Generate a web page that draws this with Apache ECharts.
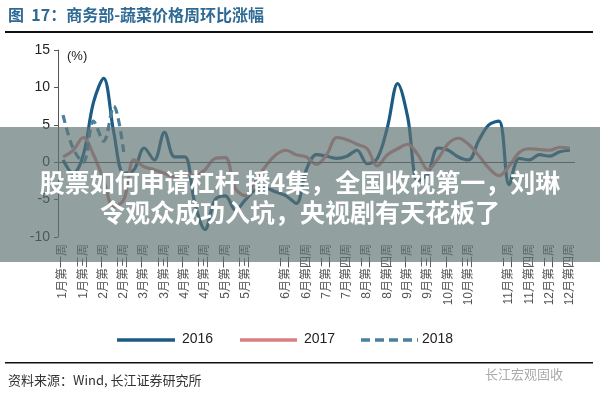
<!DOCTYPE html>
<html><head><meta charset="utf-8">
<script src="https://cdn.jsdelivr.net/npm/echarts@6/dist/echarts.min.js"></script>
<style>html,body{margin:0;padding:0;background:#fff}#c{width:600px;height:400px}</style>
</head><body><div id="c"></div>
<script>
const tickLabels = ['1月第一周','1月第三周','2月第一周','2月第三周','3月第一周','3月第三周','4月第一周','4月第三周','5月第一周','5月第三周','',
'6月第二周','6月第四周','7月第二周','7月第四周','8月第二周','8月第四周','9月第一周','9月第三周','10月第一周','10月第三周','',
'11月第二周','11月第四周','12月第二周','12月第四周'];
const s2016 = [0.3,-1.5,1,8,11.2,4,-1.5,-1,1.9,0.3,4,0.7,0.7,-5.5,-9,-5,-4.5,-6.4,-5,-3.7,-3.5,-4,-4.5,-5.5,-1,1,0.8,0.5,0.8,1.6,-0.2,0.5,4.7,10.5,6,-2.5,-1.5,1.9,1.6,0.7,0.3,2.9,5,5.5,-3,0.5,0.3,1,0.8,1.4,1.6];
const s2017 = [0.7,1.6,3.3,1,-2.4,-6,-5,0.3,-0.6,-1,-1.5,-2,-1.5,-1.8,-1,0.5,0.6,-3.5,-4.5,-2.5,-0.5,1,1.6,1,0.7,-0.3,1,3.3,3,2.4,1.8,-0.5,1,1.8,2.4,1,-1,0.5,2.5,3.2,2.4,0.9,-0.8,-1.8,-0.5,1.3,1.8,1.7,1.6,2,1.9];
const s2018 = [6.3,1.8,0,5.5,2.8,7.5,1.2];
const yTicks = [-10,-5,0,5,10,15];
const cats = s2016.map((_, i) => i % 2 === 0 ? (tickLabels[i/2] || '') : '');
const C16='#1d5b84', C17='#d97f80', C18='#4a7f9e';
const chart = echarts.init(document.getElementById('c'));
chart.setOption({
  animation:false,
  textStyle:{fontFamily:'Liberation Sans, Noto Sans CJK SC'},
  grid:{left:58,right:25,top:50,bottom:163},
  xAxis:{type:'category',data:cats,boundaryGap:true,
    axisLine:{show:false,onZero:false},axisTick:{show:false},
    axisLabel:{interval:0,rotate:90,fontSize:12,color:'#555',margin:7}},
  yAxis:{type:'value',min:yTicks[0],max:yTicks[yTicks.length-1],interval:5,
    axisLine:{show:true,lineStyle:{color:'#555'}},axisTick:{show:true,length:4},
    splitLine:{show:false},axisLabel:{fontSize:14,color:'#222',margin:8}},
  series:[
    {name:'2016',type:'line',data:s2016,smooth:0.35,symbol:'none',lineStyle:{width:3.2,color:C16},
     markLine:{silent:true,symbol:'none',label:{show:false},lineStyle:{color:'#555',width:1.2,type:'solid'},data:[{yAxis:0}]}},
    {name:'2017',type:'line',data:s2017,smooth:0.35,symbol:'none',lineStyle:{width:3.2,color:C17}},
    {name:'2018',type:'line',data:s2018,smooth:0.35,symbol:'none',lineStyle:{width:3.2,color:C18,type:[8,5]}}
  ],
  graphic:[
    {type:'text',left:8,top:7,style:{text:'图  17：商务部-蔬菜价格周环比涨幅',fontSize:16,fontWeight:'bold',fill:'#2f6a94',fontFamily:'Noto Sans CJK SC'}},
    {type:'rect',shape:{x:5,y:31,width:588,height:2},style:{fill:'#111'}},
    {type:'text',left:67,top:50,style:{text:'(%)',fontSize:13,fill:'#222'}},
    {type:'line',shape:{x1:117,y1:340,x2:175,y2:340},style:{stroke:C16,lineWidth:3.5}},
    {type:'text',left:182,top:332,style:{text:'2016',fontSize:14,fill:'#222'}},
    {type:'line',shape:{x1:240,y1:340,x2:297,y2:340},style:{stroke:C17,lineWidth:3.5}},
    {type:'text',left:304,top:332,style:{text:'2017',fontSize:14,fill:'#222'}},
    {type:'line',shape:{x1:361,y1:340,x2:418,y2:340},style:{stroke:C18,lineWidth:3.5,lineDash:[9,5]}},
    {type:'text',left:422,top:332,style:{text:'2018',fontSize:14,fill:'#222'}},
    {type:'rect',shape:{x:5,y:362,width:588,height:1.5},style:{fill:'#111'}},
    {type:'text',left:8,top:374,style:{text:'资料来源：Wind, 长江证券研究所',fontSize:13,fill:'#333',fontFamily:'Noto Sans CJK SC'}},
    {type:'text',left:485,top:368,style:{text:'长江宏观固收',fontSize:13,fill:'#aaa',fontFamily:'Noto Sans CJK SC'}},
    {type:'rect',z:100,shape:{x:0,y:127,width:600,height:135},style:{fill:'rgba(95,115,115,0.68)'}},
    {type:'text',z:101,left:'center',top:170,style:{text:'股票如何申请杠杆 播4集，全国收视第一，刘琳',fontSize:25,fontWeight:'bold',fill:'#fff',fontFamily:'Noto Sans CJK SC'}},
    {type:'text',z:101,left:'center',top:200,style:{text:'令观众成功入坑，央视剧有天花板了',fontSize:25,fontWeight:'bold',fill:'#fff',fontFamily:'Noto Sans CJK SC'}}
  ]
});
</script></body></html>
